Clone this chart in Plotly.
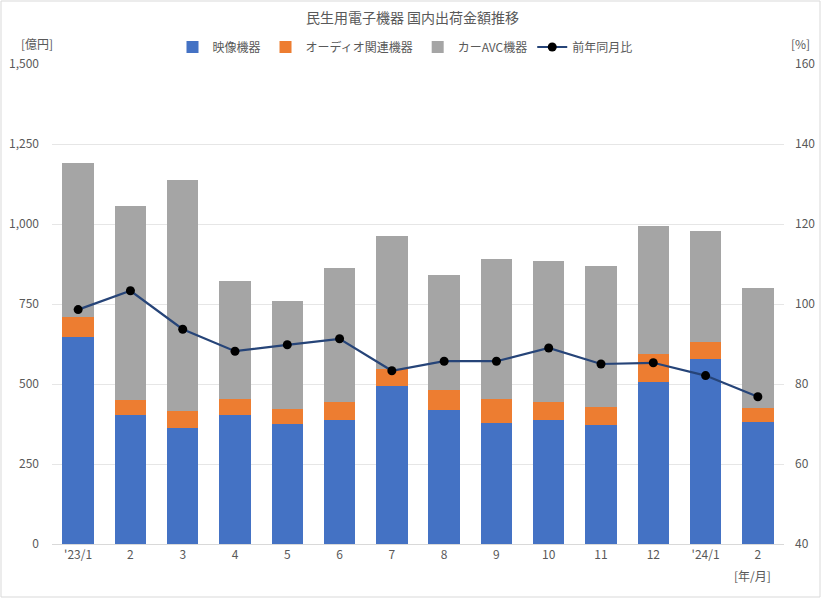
import plotly.graph_objects as go

months = ["'23/1", "2", "3", "4", "5", "6", "7", "8", "9", "10", "11", "12", "'24/1", "2"]
video = [647, 404, 364, 402, 374, 388, 495, 418, 379, 389, 371, 507, 579, 380]
audio = [61, 47, 53, 50, 47, 57, 52, 63, 75, 55, 57, 86, 53, 46]
car_avc = [482, 605, 721, 371, 339, 417, 415, 361, 437, 441, 440, 402, 345, 374]
yoy = [98.6, 103.3, 93.7, 88.2, 89.8, 91.3, 83.3, 85.7, 85.7, 89.0, 85.0, 85.3, 82.1, 76.8]

x = list(range(len(months)))
FONT = "Noto Sans CJK JP"
TXT = "#595959"

fig = go.Figure()
fig.add_bar(x=x, y=video, name="映像機器", marker=dict(color="#4472C4", line=dict(width=0)))
fig.add_bar(x=x, y=audio, name="オーディオ関連機器", marker=dict(color="#ED7D31", line=dict(width=0)))
fig.add_bar(x=x, y=car_avc, name="カーAVC機器", marker=dict(color="#A5A5A5", line=dict(width=0)))
fig.add_scatter(x=x, y=yoy, name="前年同月比", yaxis="y2", mode="lines+markers",
                line=dict(color="#264478", width=2.2),
                marker=dict(color="#000000", size=9))

L, R, T, B = 52, 784, 64, 544
W, H = 825, 600
pw, ph = R - L, B - T

def px(v):
    return (v - L) / pw

def py(v):
    return (B - v) / ph

fig.update_layout(
    width=W, height=H,
    margin=dict(l=L, r=W - R, t=T, b=H - B, autoexpand=False),
    barmode="stack", bargap=0.4,
    plot_bgcolor="white", paper_bgcolor="white",
    font=dict(family=FONT, color=TXT, size=12),
    title=dict(text="民生用電子機器 国内出荷金額推移", x=0.5, xref="container", xanchor="center",
               y=1 - 18 / H, yref="container", yanchor="middle",
               font=dict(size=14, color=TXT, family=FONT)),
    legend=dict(orientation="h", x=px(405), xref="paper", xanchor="center",
                y=py(47), yref="paper", yanchor="middle",
                font=dict(size=12, color=TXT, family=FONT), traceorder="normal",
                itemwidth=30, bgcolor="rgba(0,0,0,0)"),
    xaxis=dict(tickvals=x, ticktext=months, range=[-0.5, len(months) - 0.5],
               showgrid=False, showline=True, linecolor="#D9D9D9", linewidth=1,
               ticks="", tickfont=dict(size=12, color=TXT), zeroline=False),
    yaxis=dict(range=[0, 1500], dtick=250, tickformat=",", showgrid=True,
               gridcolor="#E6E6E6", gridwidth=1, zeroline=False, ticks="",
               tickfont=dict(size=12, color=TXT), ticklabelstandoff=12),
    yaxis2=dict(range=[40, 160], dtick=20, overlaying="y", side="right",
                showgrid=False, zeroline=False, ticks="",
                tickfont=dict(size=12, color=TXT), ticklabelstandoff=10),
    annotations=[
        dict(text="[億円]", x=px(37), y=py(43), xref="paper", yref="paper",
             showarrow=False, xanchor="center", yanchor="middle", font=dict(size=12, color=TXT)),
        dict(text="[%]", x=px(800), y=py(43), xref="paper", yref="paper",
             showarrow=False, xanchor="center", yanchor="middle", font=dict(size=12, color=TXT)),
        dict(text="[年/月]", x=px(752), y=py(575), xref="paper", yref="paper",
             showarrow=False, xanchor="center", yanchor="middle", font=dict(size=12, color=TXT)),
    ],
    shapes=[dict(type="rect", xref="paper", yref="paper",
                 x0=px(1), x1=px(820), y0=py(597), y1=py(1),
                 line=dict(color="#D9D9D9", width=1), layer="below")],
)

fig.write_html("out.html", config={"displayModeBar": False},
               post_script="document.body.style.margin='0';")
